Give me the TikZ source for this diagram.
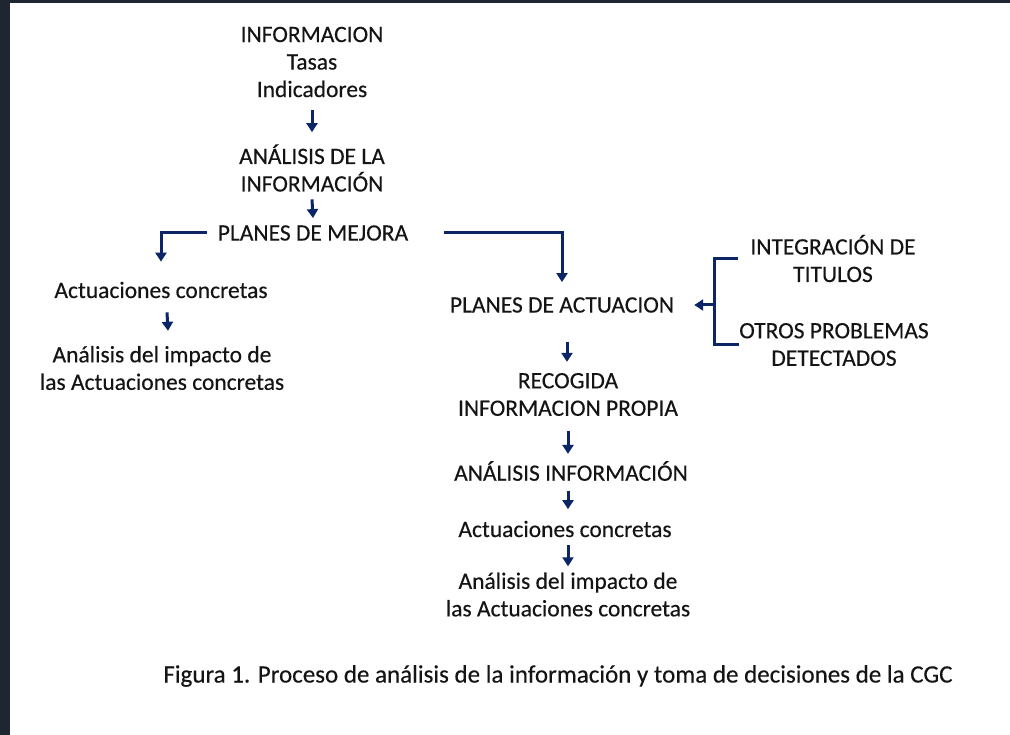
\documentclass[tikz,border=0pt]{standalone}
\usepackage{fontspec}
\setmainfont{Carlito}[FakeBold=0.3]
\usetikzlibrary{arrows.meta}
\definecolor{navy}{HTML}{0B2566}
\definecolor{txtc}{HTML}{141414}
\definecolor{frame}{HTML}{1F2631}
\begin{document}
\begin{tikzpicture}[x=1pt,y=-1pt,
  txt/.style={font=\fontsize{23.5}{27.5}\selectfont, align=center, inner sep=0pt, text=txtc},
  captxt/.style={font=\fontsize{25}{28}\selectfont, inner sep=0pt, text=txtc},
  arr/.style={draw=navy, line width=3pt, -{Triangle[width=11pt,length=9pt]}},
  brk/.style={draw=navy, line width=3pt}]
\useasboundingbox[fill=white] (0,0) rectangle (1010,735);
\fill[frame] (0,0) rectangle (10,735);
\fill[frame] (0,0) rectangle (1010,3);

\node[txt] (info) at (312,62) {INFORMACION\\Tasas\\Indicadores};
\node[txt] (anal) at (312,168) {ANÁLISIS DE LA\\INFORMACIÓN};
\node[txt] (mejora) at (313,233) {PLANES DE MEJORA};
\node[txt] (actl) at (161,290) {Actuaciones concretas};
\node[txt] (impl) at (162,368) {Análisis del impacto de\\las Actuaciones concretas};
\node[txt] (pact) at (562,305) {PLANES DE ACTUACION};
\node[txt] (integ) at (833,258.5) {INTEGRACIÓN DE\\TITULOS};
\node[txt] (otros) at (834,344.5) {OTROS PROBLEMAS\\DETECTADOS};
\node[txt] (recog) at (568,394.5) {RECOGIDA\\INFORMACION PROPIA};
\node[txt] (anali) at (571,471) {ANÁLISIS INFORMACIÓN};
\node[txt] (actr) at (565,529) {Actuaciones concretas};
\node[txt] (impr) at (568,594.5) {Análisis del impacto de\\las Actuaciones concretas};
\node[captxt] (caption) at (558,676) {Figura 1. Proceso de análisis de la información y toma de decisiones de la CGC};

\draw[arr] ([yshift=-13pt]info.south) -- ([yshift=12pt]anal.north);
\draw[arr] ([yshift=-7.5pt]anal.south) -- ([yshift=7pt]mejora.north);
\draw[arr] ([xshift=-11pt]mejora.west) -| ([yshift=20pt]actl.north);
\draw[arr] ([xshift=36pt]mejora.east) -| ([yshift=15pt]pact.north);
\draw[arr] ([xshift=6pt,yshift=-14pt]actl.south) -- ([xshift=6pt,yshift=15pt]impl.north);
\draw[arr] ([xshift=5pt,yshift=-29pt]pact.south) -- ([xshift=5pt,yshift=11pt]pact.south |- recog.north);
\draw[arr] ([yshift=-14.5pt]recog.south) -- ([yshift=7pt]recog.south |- anali.north);
\draw[arr] ([xshift=-3pt,yshift=-10pt]anali.south) -- ([xshift=-3pt,yshift=11.5pt]anali.south |- actr.north);
\draw[arr] ([xshift=3pt,yshift=-8pt]actr.south) -- ([xshift=3pt,yshift=6pt]actr.south |- impr.north);

\draw[brk] ([xshift=-12pt]integ.west) -- ++(-24,0) |- (otros.west);
\coordinate (bm) at (716,305);
\draw[arr] (bm) -- ([xshift=20pt]pact.east);
\end{tikzpicture}
\end{document}
